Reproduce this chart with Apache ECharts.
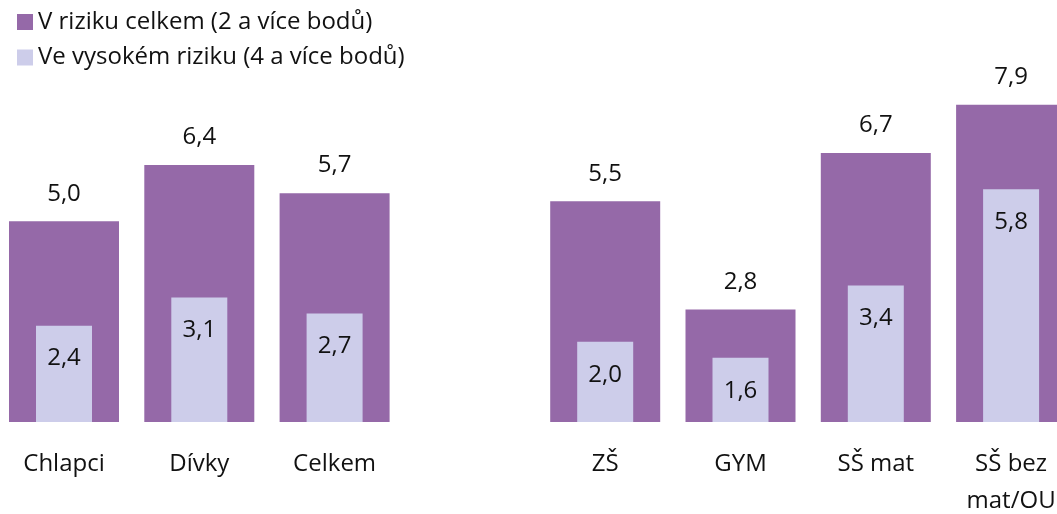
<!DOCTYPE html>
<html>
<head>
<meta charset="utf-8">
<script src="https://cdn.jsdelivr.net/npm/echarts@6/dist/echarts.min.js"></script>
<style>
  html, body { margin: 0; padding: 0; background: #fff; }
  #chart { width: 1057px; height: 514px; }
</style>
</head>
<body>
<div id="chart"></div>
<script>
// Categories: gender groups, an empty spacer slot, then school types
const categories = ['Chlapci', 'Dívky', 'Celkem', '', 'ZŠ', 'GYM', 'SŠ mat', 'SŠ bez\nmat/OU'];
const seriesNames = ['V riziku celkem (2 a více bodů)', 'Ve vysokém riziku (4 a více bodů)'];
const riskTotal = [5.0, 6.4, 5.7, null, 5.5, 2.8, 6.7, 7.9];
const riskHigh  = [2.4, 3.1, 2.7, null, 2.0, 1.6, 3.4, 5.8];

const FONT = '"Open Sans", "Noto Sans", sans-serif';
const FS = 24;
const fmt = p => (p.value == null ? '' : p.value.toFixed(1).replace('.', ','));

const chart = echarts.init(document.getElementById('chart'), null, { renderer: 'canvas' });
chart.setOption({
  animation: false,
  textStyle: { fontFamily: FONT },
  legend: {
    orient: 'vertical',
    left: 12, top: 5,
    itemWidth: 16, itemHeight: 16,
    itemGap: 11.5,
    icon: 'rect',
    textStyle: { fontSize: FS, color: '#111', fontFamily: FONT },
    data: seriesNames
  },
  grid: {
    left: -3.65, right: -21.75, top: 20.5, bottom: 92,
    containLabel: false,
    outerBoundsMode: 'none'
  },
  xAxis: [
    {
      type: 'category', data: categories,
      axisLine: { show: false }, axisTick: { show: false },
      axisLabel: {
        interval: 0, margin: 24, fontSize: FS, color: '#111',
        lineHeight: 37, fontFamily: FONT
      }
    },
    {
      type: 'category', data: categories, show: false
    }
  ],
  yAxis: {
    type: 'value', min: 0, max: 10, show: false,
    splitLine: { show: false }
  },
  series: [
    {
      name: seriesNames[0], type: 'bar', xAxisIndex: 0,
      data: riskTotal, barWidth: 110,
      itemStyle: { color: '#9569a8' },
      label: {
        show: true, position: 'top', distance: 15.5,
        fontSize: FS, color: '#111', fontFamily: FONT, formatter: fmt
      }
    },
    {
      name: seriesNames[1], type: 'bar', xAxisIndex: 1,
      data: riskHigh, barWidth: 56,
      itemStyle: { color: '#cdcdea' },
      label: {
        show: true, position: 'insideTop', distance: 21,
        fontSize: FS, color: '#111', fontFamily: FONT, formatter: fmt
      }
    }
  ]
});
</script>
</body>
</html>
